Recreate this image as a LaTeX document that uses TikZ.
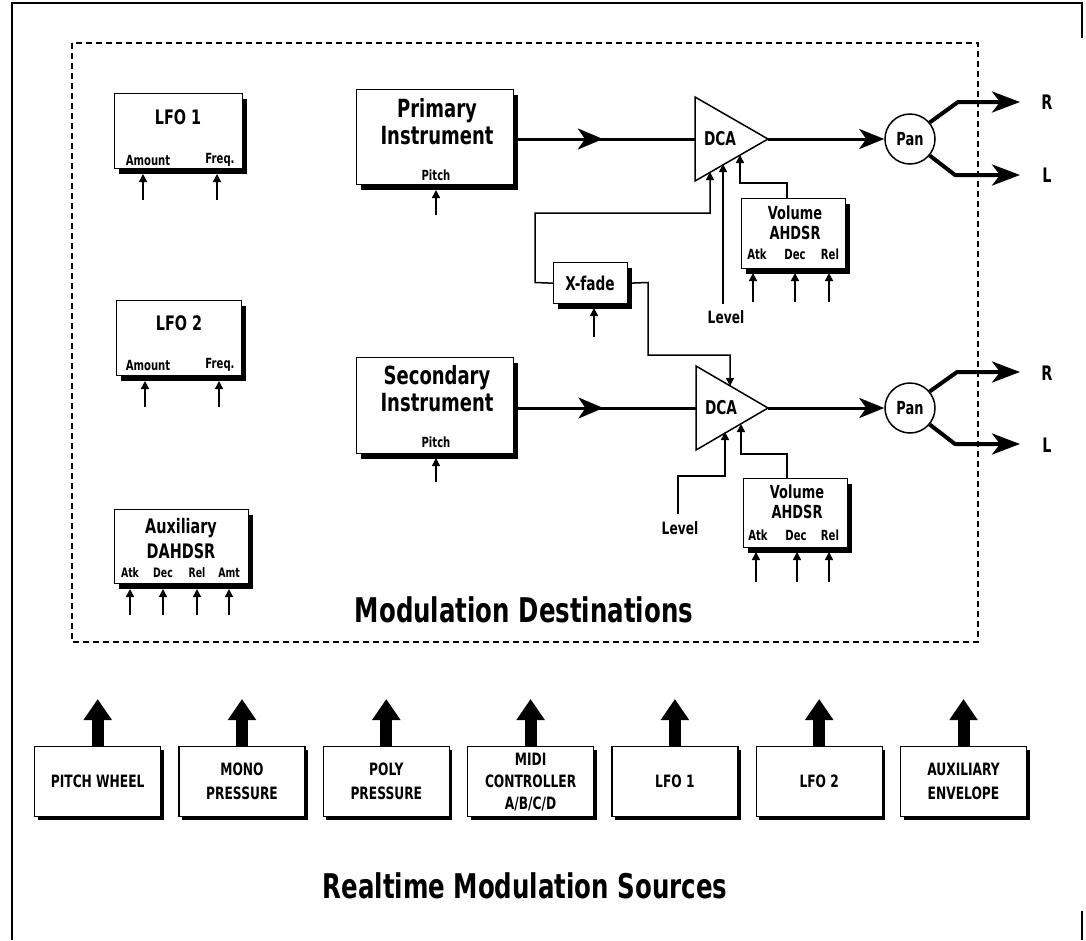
\documentclass[tikz,border=0pt]{standalone}
\usepackage{fontspec}
\setmainfont{DejaVu Sans}[FakeStretch=0.72]
\usetikzlibrary{arrows.meta,shadows,decorations.markings}
\newcommand\fsz[2]{\fontsize{#1}{#2}\selectfont\bfseries}
\begin{document}
\begin{tikzpicture}[x=1pt,y=-1pt,
  box/.style={draw, line width=1.4pt, fill=white, inner sep=0pt, anchor=north west,
     drop shadow={shadow xshift=4pt, shadow yshift=-5pt, opacity=1, fill=black}},
  srcbox/.style={draw, line width=1.4pt, fill=white, inner sep=0pt, anchor=north west,
     minimum width=126pt, minimum height=70pt, align=center, font=\fsz{17}{24},
     drop shadow={shadow xshift=3pt, shadow yshift=-3pt, opacity=1, fill=black}},
  lbl/.style={inner sep=0pt, font=\fsz{14}{14}},
  inarr/.style={line width=1.5pt, -{Triangle[length=8pt,width=8pt]}},
  wire/.style={line width=1.5pt},
  sig/.style={line width=3pt},
  midarr/.style={postaction={decorate, decoration={markings,
     mark=at position 0.49 with {\arrow{Stealth[length=25pt,width=21pt,inset=7pt]}}}}},
  outl/.style={line width=4pt, line join=round, -{Stealth[length=28pt,width=21pt,inset=8pt]}},
  bigarr/.style={line width=12pt, -{Triangle[length=21pt,width=27pt]}},
  tri/.style={line width=1.5pt, fill=white},
]
\useasboundingbox (0,0) rectangle (1086,940);
% frame
\draw[line width=2pt] (1082,38) -- (1082,3) -- (12,3) -- (12,940);
\draw[line width=2pt] (1082,911) -- (1082,940);
% dashed destinations area
\draw[line width=1.3pt, dash pattern=on 6pt off 4pt] (72,43) rectangle (978,642);

% LFO 1
\node[box, minimum width=128pt, minimum height=75pt] (lfoA) at (114,93) {};
\node[lbl, font=\fsz{20}{20}] (lfoAt) at (178,117) {LFO 1};
\node[lbl] (lfoAa) at (148,160) {Amount};
\node[lbl] (lfoAf) at (220,160) {Freq.};
\draw[inarr] (143,200) -- (143,174);
\draw[inarr] (217,200) -- (217,174);
% LFO 2
\node[box, minimum width=125pt, minimum height=75pt] (lfoB) at (116,300) {};
\node[lbl, font=\fsz{20}{20}] (lfoBt) at (179,323) {LFO 2};
\node[lbl] (lfoBa) at (148,365) {Amount};
\node[lbl] (lfoBf) at (220,365) {Freq.};
\draw[inarr] (145,407) -- (145,381);
\draw[inarr] (219,407) -- (219,381);
% Auxiliary DAHDSR
\node[box, minimum width=134pt, minimum height=74pt] (aux) at (114,509) {};
\node[lbl, font=\fsz{20}{25}, align=center] (auxt) at (181,539) {Auxiliary\\DAHDSR};
\node[lbl, font=\fsz{13}{13}] (auxa) at (130,573) {Atk};
\node[lbl, font=\fsz{13}{13}] (auxd) at (163,573) {Dec};
\node[lbl, font=\fsz{13}{13}] (auxr) at (197,573) {Rel};
\node[lbl, font=\fsz{13}{13}] (auxm) at (229,573) {Amt};
\foreach \x in {130,163,197,229} \draw[inarr] (\x,615) -- (\x,589);

% Primary instrument
\node[box, minimum width=157pt, minimum height=95pt] (prim) at (356,89) {};
\node[lbl, font=\fsz{25}{27}, align=center] (primt) at (437,122) {Primary\\Instrument};
\node[lbl] (primp) at (436,175) {Pitch};
\draw[inarr] (436,215) -- (436,190);
% Secondary instrument
\node[box, minimum width=157pt, minimum height=96pt] (sec) at (356,357) {};
\node[lbl, font=\fsz{25}{27}, align=center] (sect) at (437,389) {Secondary\\Instrument};
\node[lbl] (secp) at (436,442) {Pitch};
\draw[inarr] (436,482) -- (436,458);

% DCA 1
\draw[tri] (695,97) coordinate (dA1) -- (768,139) coordinate (dAtip) -- (695,181) coordinate (dA3) -- cycle;
\coordinate (dAin) at (695,139);
\node[lbl, font=\fsz{19}{19}] (dcaA) at (720,139) {DCA};
% DCA 2
\draw[tri] (696,366) coordinate (dB1) -- (768,408) coordinate (dBtip) -- (696,450) coordinate (dB3) -- cycle;
\coordinate (dBin) at (696,408);
\node[lbl, font=\fsz{19}{19}] (dcaB) at (721,408) {DCA};

% signal lines
\draw[sig, midarr] (prim.east |- dAin) -- (dAin);
\draw[sig, midarr] (sec.east |- dBin) -- (dBin);

% Pan 1
\node[circle, draw, line width=1.5pt, minimum size=50pt, inner sep=0pt, font=\fsz{18}{18}] (panA) at (910,139) {Pan};
\draw[sig, -{Stealth[length=25pt,width=20pt,inset=7pt]}] (dAtip) -- (panA.west);
\node[lbl, font=\fsz{20}{20}] (rA) at (1047,102) {R};
\node[lbl, font=\fsz{20}{20}] (lA) at (1047,175) {L};
\coordinate (rAend) at (1020,102);
\coordinate (lAend) at (1020,175);
\draw[outl] (panA.40) -- (958,102) -- (rAend);
\draw[outl] (panA.-40) -- (955,175) -- (lAend);
% Pan 2
\node[circle, draw, line width=1.5pt, minimum size=50pt, inner sep=0pt, font=\fsz{18}{18}] (panB) at (910,408) {Pan};
\draw[sig, -{Stealth[length=25pt,width=20pt,inset=7pt]}] (dBtip) -- (panB.west);
\node[lbl, font=\fsz{20}{20}] (rB) at (1047,373) {R};
\node[lbl, font=\fsz{20}{20}] (lB) at (1047,445) {L};
\coordinate (rBend) at (1020,372);
\coordinate (lBend) at (1020,444);
\draw[outl] (panB.40) -- (957,372) -- (rBend);
\draw[outl] (panB.-40) -- (955,444) -- (lBend);

% X-fade
\node[box, minimum width=74pt, minimum height=41pt, font=\fsz{19}{19}] (xf) at (553,262) {};
\node[lbl, font=\fsz{19}{19}] (xft) at (590,283) {X-fade};
\draw[inarr] (594,337) -- (594,308);
\draw[wire, -{Triangle[length=8pt,width=8pt]}] (xf.west) -- (535,282.5) -- (535,213) -- (710,213) -- (710,172);
\draw[wire, -{Triangle[length=8pt,width=8pt]}] (xf.east) -- (648,282.5) -- (648,355) -- (730,355) -- (730,386);

% Level 1
\node[lbl, font=\fsz{17}{17}] (lvA) at (726,317) {Level};
\draw[wire, -{Triangle[length=8pt,width=8pt]}] (723,304) -- (723,164);
% Volume AHDSR 1
\node[box, minimum width=104pt, minimum height=70pt] (volA) at (741,198) {};
\node[lbl, font=\fsz{18}{20}, align=center] (volAt) at (795,223) {Volume\\AHDSR};
\node[lbl] (volAa) at (757,254) {Atk};
\node[lbl] (volAd) at (795,254) {Dec};
\node[lbl] (volAr) at (830,254) {Rel};
\foreach \x in {753,795,829} \draw[inarr] (\x,302) -- (\x,273);
\draw[wire, -{Triangle[length=8pt,width=8pt]}] (787,198) -- (787,183) -- (740,183) -- (740,155);

% Level 2
\node[lbl, font=\fsz{17}{17}] (lvB) at (680,528) {Level};
\draw[wire, -{Triangle[length=8pt,width=8pt]}] (678,514) -- (678,476) -- (725,476) -- (725,432);
% Volume AHDSR 2
\node[box, minimum width=104pt, minimum height=69pt] (volB) at (743,478) {};
\node[lbl, font=\fsz{18}{20}, align=center] (volBt) at (797,502) {Volume\\AHDSR};
\node[lbl] (volBa) at (758,535) {Atk};
\node[lbl] (volBd) at (796,535) {Dec};
\node[lbl] (volBr) at (830,535) {Rel};
\foreach \x in {756,797,829} \draw[inarr] (\x,582) -- (\x,552);
\draw[wire, -{Triangle[length=8pt,width=8pt]}] (787,478) -- (787,454) -- (741,454) -- (741,424);

% heading
\node[lbl, font=\fsz{34}{34}] (destt) at (524,610) {Modulation Destinations};

% sources
\node[srcbox] (s1) at (34,746) {PITCH WHEEL};
\node[srcbox] (s2) at (178.3,746) {MONO\\PRESSURE};
\node[srcbox] (s3) at (322.6,746) {POLY\\PRESSURE};
\node[srcbox, font=\fsz{17}{22}] (s4) at (466.9,746) {MIDI\\CONTROLLER\\A/B/C/D};
\node[srcbox] (s5) at (611.2,746) {LFO 1};
\node[srcbox] (s6) at (755.5,746) {LFO 2};
\node[srcbox] (s7) at (899.8,746) {AUXILIARY\\ENVELOPE};
\foreach \s in {s1,s2,s3,s4,s5,s6,s7} \draw[bigarr] (\s.north) -- ++(0,-47);

\node[lbl, font=\fsz{34}{34}] (srct) at (525,886) {Realtime Modulation Sources};
\end{tikzpicture}
\end{document}
